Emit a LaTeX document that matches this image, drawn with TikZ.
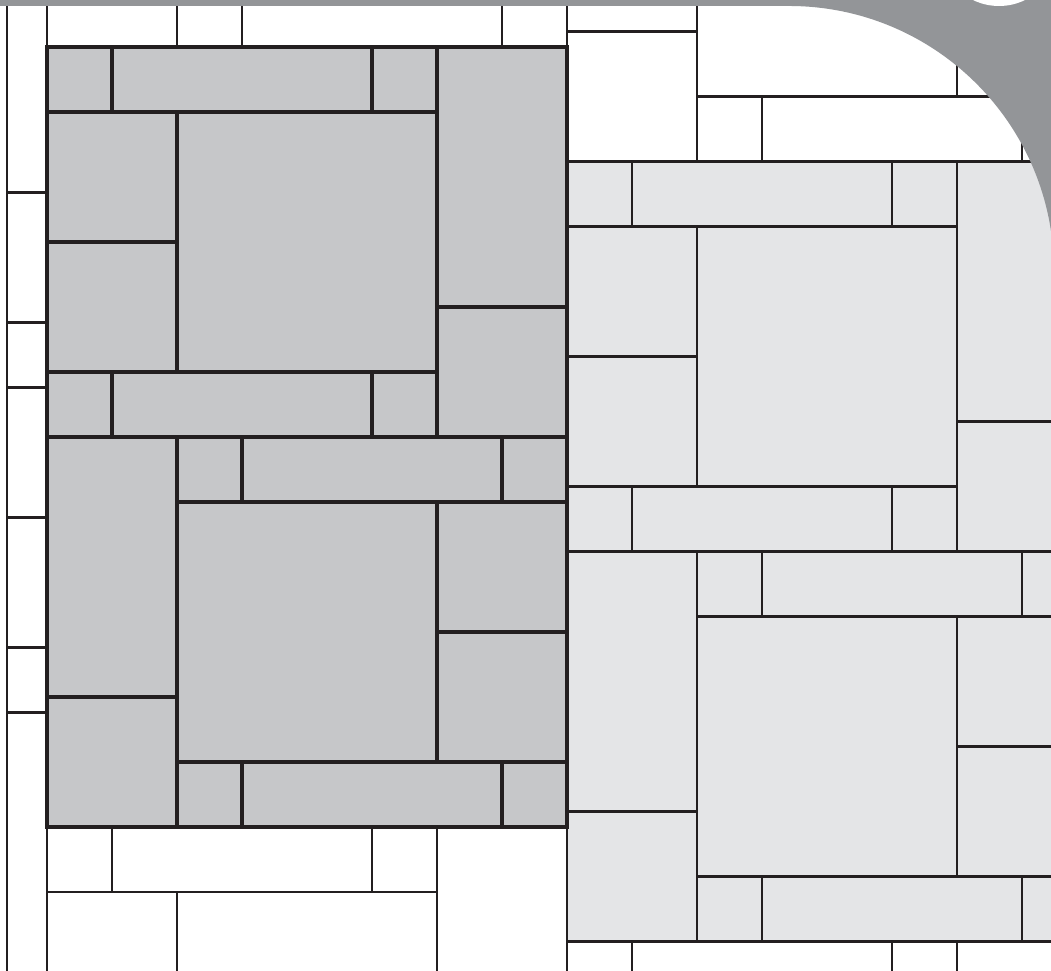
\documentclass[tikz,border=0pt]{standalone}
\usepackage{tikz}
\definecolor{lineBlack}{HTML}{231F20}
\definecolor{paveDark}{HTML}{C6C7C9}
\definecolor{paveLight}{HTML}{E4E5E7}
\definecolor{frameGray}{HTML}{939598}

% one 8 x 12 repeat of the paving, top left corner at (#1,#2)
\newcommand{\paveblock}[3]{%
  \foreach \xa/\ya/\xb/\yb in {0/0/1/1,1/0/5/1,5/0/6/1,6/0/8/4,0/1/2/3,0/3/2/5,2/1/6/5,6/4/8/6,
      0/5/1/6,1/5/5/6,5/5/6/6,0/6/2/10,2/6/3/7,3/6/7/7,7/6/8/7,2/7/6/11,6/7/8/9,6/9/8/11,
      0/10/2/12,2/11/3/12,3/11/7/12,7/11/8/12}
    \draw[#3] (#1+\xa,#2-\ya) rectangle (#1+\xb,#2-\yb);
}

\begin{document}
\begin{tikzpicture}[line join=miter,
  tile/.style={draw=lineBlack,line width=1.05pt},
  lightTile/.style={tile,fill=paveLight},
  darkTile/.style={draw=lineBlack,line width=1.45pt,fill=paveDark}]
  \useasboundingbox (-0.723,0.723) rectangle (15.446,-14.215);
  \begin{scope}
    \clip (-0.615,0.723) rectangle (15.446,-14.215);
    % plain paving: each column of repeats drops 1.76 below the one on its left
    \foreach \k/\dy in {-1/1.76,0/0,1/-1.76} {
      \foreach \r in {-1,0,1} \paveblock{8*\k}{\dy-12*\r}{tile};
    }
    % shaded repeats
    \paveblock{8}{-1.76}{lightTile}
    \paveblock{0}{0}{darkTile}
  \end{scope}
  % frame
  \clip (-0.723,0.723) rectangle (15.446,-14.215);
  \draw[lineBlack,line width=0.95pt] (-0.615,1) -- (-0.615,-15);
  \fill[frameGray] (-1,1) rectangle (16,0.631);
  \fill[frameGray] (11.415,0.631) arc[start angle=90,end angle=0,radius=4.077]
    -- (16,-3.446) -- (16,0.631) -- cycle;
  \fill[white] (14.646,1.554) circle[radius=0.923];
\end{tikzpicture}
\end{document}
